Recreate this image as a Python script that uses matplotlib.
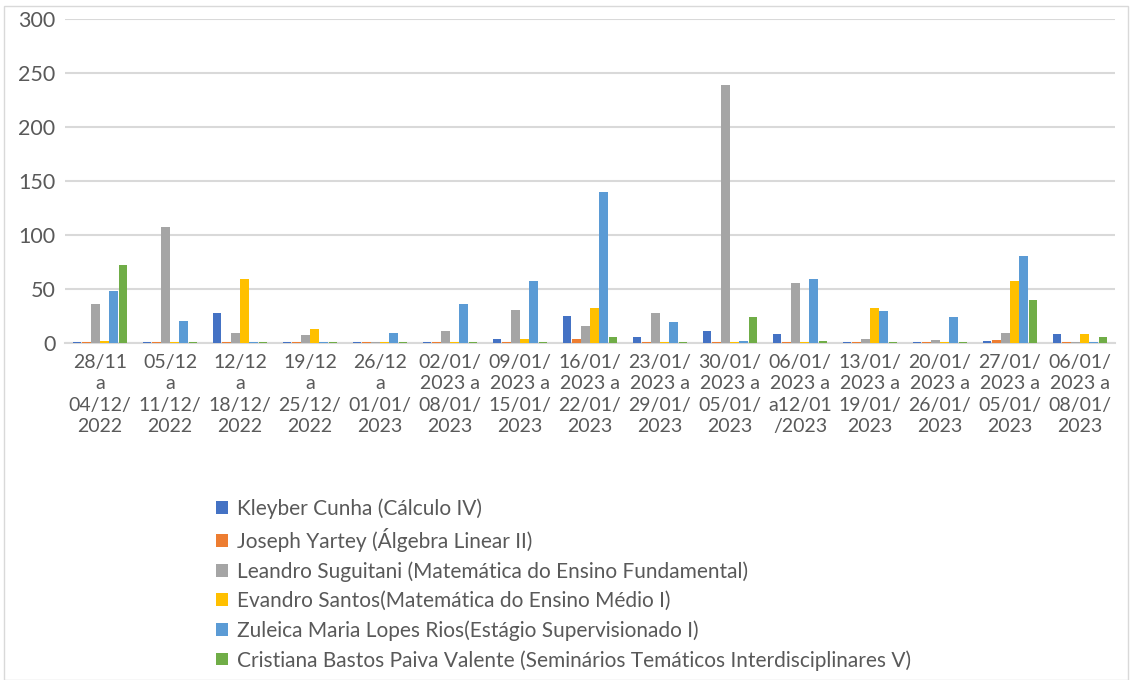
import matplotlib.pyplot as plt
import numpy as np
from matplotlib.patches import Rectangle

plt.rcParams['font.family'] = ['Lato', 'DejaVu Sans']

# Week labels (x axis)
weeks = [
    '28/11\na\n04/12/\n2022', '05/12\na\n11/12/\n2022', '12/12\na\n18/12/\n2022',
    '19/12\na\n25/12/\n2022', '26/12\na\n01/01/\n2023',
    '02/01/\n2023 a\n08/01/\n2023', '09/01/\n2023 a\n15/01/\n2023',
    '16/01/\n2023 a\n22/01/\n2023', '23/01/\n2023 a\n29/01/\n2023',
    '30/01/\n2023 a\n05/01/\n2023', '06/01/\n2023 a\na12/01\n/2023',
    '13/01/\n2023 a\n19/01/\n2023', '20/01/\n2023 a\n26/01/\n2023',
    '27/01/\n2023 a\n05/01/\n2023', '06/01/\n2023 a\n08/01/\n2023',
]

names = [
    'Kleyber Cunha (Cálculo IV)',
    'Joseph Yartey (Álgebra Linear II)',
    'Leandro Suguitani (Matemática do Ensino Fundamental)',
    'Evandro Santos(Matemática do Ensino Médio I)',
    'Zuleica Maria Lopes Rios(Estágio Supervisionado I)',
    'Cristiana Bastos Paiva Valente (Seminários Temáticos Interdisciplinares V)',
]

kleyber = [1, 1, 28, 1, 1, 1, 4, 25, 6, 11, 8, 1, 1, 2, 8]
joseph = [1, 1, 1, 1, 1, 1, 1, 4, 1, 1, 1, 1, 1, 3, 1]
leandro = [36, 107, 9, 7, 1, 11, 31, 16, 28, 239, 56, 4, 3, 9, 1]
evandro = [2, 1, 59, 13, 1, 1, 4, 32, 1, 1, 1, 32, 1, 57, 8]
zuleica = [48, 20, 1, 1, 9, 36, 57, 140, 19, 2, 59, 30, 24, 81, 1]
cristiana = [72, 1, 1, 1, 1, 1, 1, 6, 1, 24, 2, 1, 1, 40, 6]

series = [kleyber, joseph, leandro, evandro, zuleica, cristiana]
colors = ['#4472C4', '#ED7D31', '#A5A5A5', '#FFC000', '#5B9BD5', '#70AD47']

fig = plt.figure(figsize=(11.3, 6.8), dpi=100)
ax = fig.add_axes([65 / 1130, 1 - 343 / 680, 1050 / 1130, 324 / 680])

x = np.arange(len(weeks))
step = 0.13
for i, (vals, c, n) in enumerate(zip(series, colors, names)):
    ax.bar(x + (i - 2.5) * step, vals, width=0.12, color=c, label=n, zorder=3)

ax.set_xlim(-0.5, len(weeks) - 0.5)
ax.set_ylim(0, 300)
ax.set_yticks(range(0, 301, 50))
ax.grid(axis='y', color='#D9D9D9', linewidth=1.5, zorder=0)
ax.set_xticks(x)
ax.set_xticklabels(weeks, linespacing=1.3)
ax.tick_params(axis='both', length=0, colors='#595959')
ax.tick_params(axis='x', pad=8, labelsize=14)
ax.tick_params(axis='y', pad=7, labelsize=15.5)
for s in ['top', 'right', 'left']:
    ax.spines[s].set_visible(False)
ax.spines['bottom'].set_color('#D9D9D9')
ax.spines['bottom'].set_linewidth(1.5)

# legend below the plot, one entry per row
leg = fig.legend(loc='upper left', bbox_to_anchor=(208 / 1130, 1 - 490 / 680),
                 frameon=False, fontsize=15, handlelength=0.55, handleheight=0.55,
                 handletextpad=0.45, labelspacing=0.44, borderaxespad=0)
for t in leg.get_texts():
    t.set_color('#595959')

fig.patches.append(Rectangle((4 / 1130, 0), 1124 / 1130, 1 - 6 / 680,
                             transform=fig.transFigure, fill=False,
                             edgecolor='#D9D9D9', linewidth=1))

fig.savefig('out.png', dpi=100)
